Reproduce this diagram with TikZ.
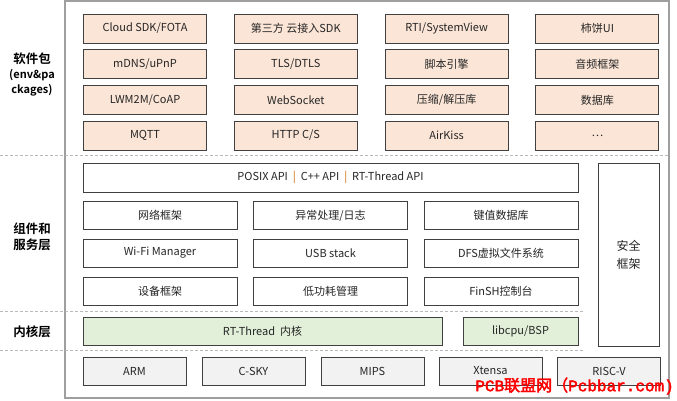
\documentclass[tikz,border=0pt]{standalone}
\usepackage{fontspec}
\setmainfont{Noto Sans CJK SC}[BoldFont={* Bold}]
\newfontfamily\wmlatin{Liberation Mono}[FakeBold=2.5]
\newfontfamily\wmcjk{Noto Sans CJK SC}[FakeBold=2.5]

\definecolor{pkgfill}{HTML}{FBE5D6}
\definecolor{kernfill}{HTML}{E2F0D9}
\definecolor{archfill}{HTML}{F2F2F2}
\definecolor{boxline}{HTML}{404040}

\tikzstyle{box}=[draw=boxline, line width=0.9pt, inner sep=0pt, font=\fontsize{11}{13}\selectfont, text=black!85]
\tikzstyle{pkgbox}=[box, fill=pkgfill, minimum width=123pt, minimum height=29pt]
\tikzstyle{compbox}=[box, fill=white, minimum width=154pt, minimum height=28pt]
\tikzstyle{layersep}=[gray!55, line width=0.6pt, dash pattern=on 3pt off 2pt]
\tikzstyle{layername}=[font=\bfseries\fontsize{12.5}{16}\selectfont, align=center, text=black]

\begin{document}
\begin{tikzpicture}[x=1pt, y=-1pt]

	\useasboundingbox (0,0) rectangle (677,400);

	\def\pw{150.8} % column pitch of the packages
	\def\ph{35.7}  % row pitch of the packages

	% outer frame
	\draw[gray!75, line width=1.4pt] (65,1) rectangle (669,398);

	% layer separators
	\draw[layersep] (0,155) -- (669,155);
	\draw[layersep] (0,311) -- (585,311);
	\draw[layersep] (0,350) -- (585,350);

	% layer names
	\node[layername] (lpkg) at (32,74) {软件包\\[-1pt]{\fontsize{11}{16}\selectfont (env\&pa}\\[-1pt]{\fontsize{11}{16}\selectfont ckages)}};
	\node[layername] (lcomp) at (32,237) {组件和\\服务层};
	\node[layername] (lkern) at (32,332) {内核层};

	% software packages, row by row
	\foreach \txt [count=\k from 0] in {Cloud SDK/FOTA, 第三方 云接入SDK, RTI/SystemView, 柿饼UI, mDNS/uPnP, TLS/DTLS, 脚本引擎, 音频框架, LWM2M/CoAP, WebSocket, 压缩/解压库, 数据库, MQTT, HTTP C/S, AirKiss, \ldots} {
		\pgfmathtruncatemacro\c{mod(\k,4)}
		\pgfmathtruncatemacro\r{int(\k/4)}
		\node[pkgbox] (pkg-\r-\c) at ({145+\c*\pw},{28.5+\r*\ph}) {\txt};
	}

	% components and services
	\node[compbox, minimum width=495pt, minimum height=29pt] (api) at (330.5,177.5) {POSIX API\ \ {\color{orange!80!black}|}\ \ C++ API\ \ {\color{orange!80!black}|}\ \ RT-Thread API};
	\node[compbox] (net) at (160,215.5) {网络框架};
	\node[compbox] (exc) at (330.5,215.5) {异常处理/日志};
	\node[compbox] (kvdb) at (501,215.5) {键值数据库};
	\node[compbox] (wifi) at (160,253) {Wi-Fi Manager};
	\node[compbox] (usb) at (330.5,253) {USB stack};
	\node[compbox] (dfs) at (501,253) {DFS虚拟文件系统};
	\node[compbox] (dev) at (160,291) {设备框架};
	\node[compbox] (pm) at (330.5,291) {低功耗管理};
	\node[compbox] (finsh) at (501,291) {FinSH控制台};
	\node[compbox, minimum width=61pt, minimum height=183pt, align=center, font=\fontsize{12}{18}\selectfont] (sec) at (628.5,254.5) {安全\\框架};

	% kernel
	\node[box, fill=kernfill, minimum width=359pt, minimum height=28pt] (kern) at (262.5,331) {RT-Thread\ \ 内核};
	\node[box, fill=kernfill, minimum width=115pt, minimum height=28pt] (bsp) at (520.5,331) {libcpu/BSP};

	% architectures
	\foreach \arch/\x in {ARM/134.5, C-SKY/253.5, MIPS/372.5, Xtensa/490.5, RISC-V/609} {
		\node[box, fill=archfill, minimum width=103pt, minimum height=28pt] (arch-\arch) at (\x,371) {\arch};
	}

	% watermark
	\node[anchor=east, text=red, inner sep=0pt, font=\fontsize{16}{18}\selectfont] (mark) at (674,386) {\wmlatin PCB\wmcjk 联盟网（\wmlatin Pcbbar.com)};

\end{tikzpicture}
\end{document}
